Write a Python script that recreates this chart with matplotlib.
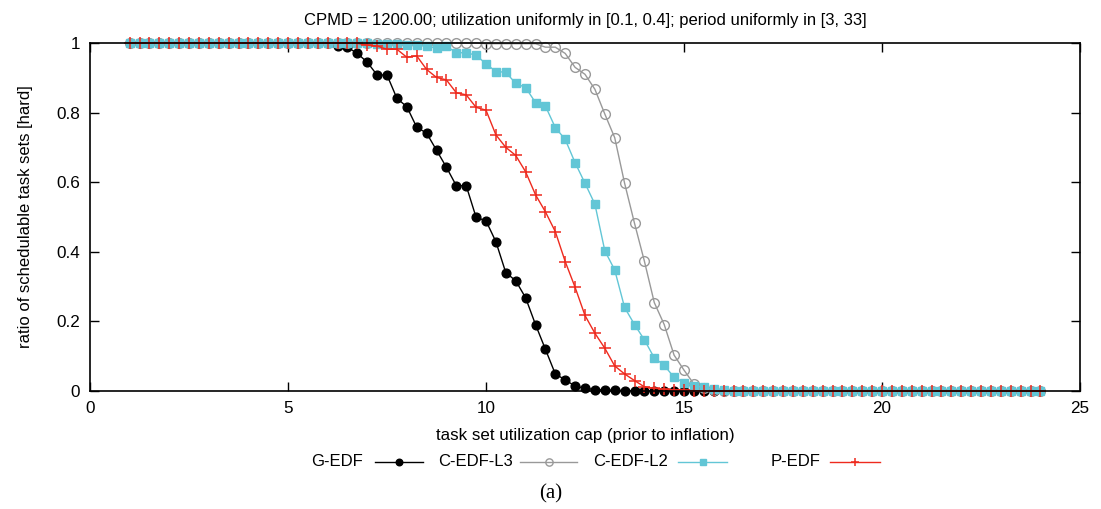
import numpy as np
import matplotlib
matplotlib.use("Agg")
import matplotlib.pyplot as plt
from matplotlib.lines import Line2D

plt.rcParams['font.family'] = ['Liberation Sans', 'DejaVu Sans']

# x values: utilization caps 1.0 .. 24.0 in steps of 0.25
x_start, x_stop, x_step = 1.0, 24.0, 0.25
caps = np.arange(x_start, x_stop + x_step / 2, x_step)
n = len(caps)

# G-EDF: 1.0 for caps before start, then read values
g_edf_vals = [0.991, 0.988, 0.970, 0.945, 0.908, 0.908, 0.841, 0.817, 0.758, 0.741,
              0.692, 0.643, 0.590, 0.590, 0.499, 0.489, 0.429, 0.340, 0.317, 0.268,
              0.191, 0.120, 0.049, 0.032, 0.014, 0.008, 0.004, 0.003, 0.002, 0.001,
              0.001]
g_edf_start = 6.25

# C-EDF-L3
c_l3_vals = [0.998, 0.998, 0.998, 0.998, 0.998, 0.998, 0.988, 0.988, 0.970, 0.930,
             0.910, 0.867, 0.796, 0.728, 0.597, 0.482, 0.373, 0.254, 0.191, 0.103,
             0.060, 0.020, 0.008, 0.003, 0.001]
c_l3_start = 10.0

# C-EDF-L2
c_l2_vals = [0.998, 0.998, 0.998, 0.994, 0.994, 0.991, 0.985, 0.991, 0.972, 0.972,
             0.965, 0.940, 0.918, 0.916, 0.884, 0.872, 0.829, 0.819, 0.757, 0.723,
             0.656, 0.597, 0.537, 0.403, 0.348, 0.240, 0.191, 0.147, 0.095, 0.074,
             0.039, 0.024, 0.014, 0.011, 0.005, 0.002, 0.001]
c_l2_start = 7.25

# P-EDF
p_edf_vals = [0.999, 0.994, 0.991, 0.982, 0.982, 0.959, 0.963, 0.924, 0.901, 0.894,
              0.857, 0.851, 0.815, 0.807, 0.736, 0.700, 0.677, 0.630, 0.564, 0.515,
              0.458, 0.372, 0.298, 0.217, 0.166, 0.123, 0.072, 0.049, 0.030, 0.012,
              0.008, 0.005, 0.003, 0.002, 0.001]
p_edf_start = 6.75

def full_series(start, vals):
    i0 = int(round((start - x_start) / x_step))
    y = np.zeros(n)
    y[:i0] = 1.0
    y[i0:i0 + len(vals)] = vals
    return y

series_names = ["G-EDF", "C-EDF-L3", "C-EDF-L2", "P-EDF"]
series_y = [full_series(g_edf_start, g_edf_vals),
            full_series(c_l3_start, c_l3_vals),
            full_series(c_l2_start, c_l2_vals),
            full_series(p_edf_start, p_edf_vals)]

styles = [
    dict(color='black', marker='o', markersize=6.3, markerfacecolor='black',
         markeredgecolor='black', linewidth=1.0),
    dict(color='#999999', marker='o', markersize=7.0, markerfacecolor='none',
         markeredgecolor='#999999', markeredgewidth=1.0, linewidth=1.0),
    dict(color='#62c6d6', marker='s', markersize=6.3, markerfacecolor='#62c6d6',
         markeredgecolor='#62c6d6', linewidth=1.0),
    dict(color='#ee2a1e', marker='+', markersize=8.5, markeredgewidth=1.1,
         linewidth=1.0),
]

fig = plt.figure(figsize=(11.01, 5.09), dpi=100)
ax = fig.add_axes([90 / 1101, 1 - 391 / 509, 990 / 1101, 348 / 509])

for name, y, st in zip(series_names, series_y, styles):
    ax.plot(caps, y, clip_on=False, **st)

ax.set_xlim(0, 25)
ax.set_ylim(0, 1)
ax.set_xticks([0, 5, 10, 15, 20, 25])
ax.set_yticks([0, 0.2, 0.4, 0.6, 0.8, 1.0])
ax.set_yticklabels(["0", "0.2", "0.4", "0.6", "0.8", "1"])
ax.tick_params(direction='in', length=6.5, width=1.0, top=True, right=True,
               labelsize=12.3, pad=7)
for sp in ax.spines.values():
    sp.set_linewidth(1.2)
ax.set_xlabel("task set utilization cap (prior to inflation)", fontsize=12.2, labelpad=9)
ax.set_ylabel("ratio of schedulable task sets [hard]", fontsize=12, labelpad=17)
ax.set_title("CPMD = 1200.00; utilization uniformly in [0.1, 0.4]; period uniformly in [3, 33]",
             fontsize=12, pad=13)

# gnuplot-style legend below the plot
leg_y = 1 - 462 / 509
text_right = [363, 513, 668, 820]
line_span = [(375, 423), (520, 577), (678, 727), (830, 880)]
for name, st, tr, (l0, l1) in zip(series_names, styles, text_right, line_span):
    fig.text(tr / 1101, leg_y, name, ha='right', va='center', fontsize=12)
    st2 = dict(st)
    lw = st2.pop('linewidth')
    ms = st2.pop('markersize')
    fig.add_artist(Line2D([l0 / 1101, l1 / 1101], [leg_y, leg_y], transform=fig.transFigure,
                          linewidth=lw, color=st2['color'], marker=None))
    mk = dict(st2)
    mk.pop('color')
    fig.add_artist(Line2D([(l0 + l1) / 2 / 1101], [leg_y], transform=fig.transFigure,
                          linestyle='none', markersize=ms * 0.75, color=st['color'], **mk))

fig.text(0.5, 1 - 494 / 509, "(a)", ha='center', va='center', fontsize=15,
         family=['Liberation Serif', 'DejaVu Serif'])

fig.savefig("out.png", dpi=100)
